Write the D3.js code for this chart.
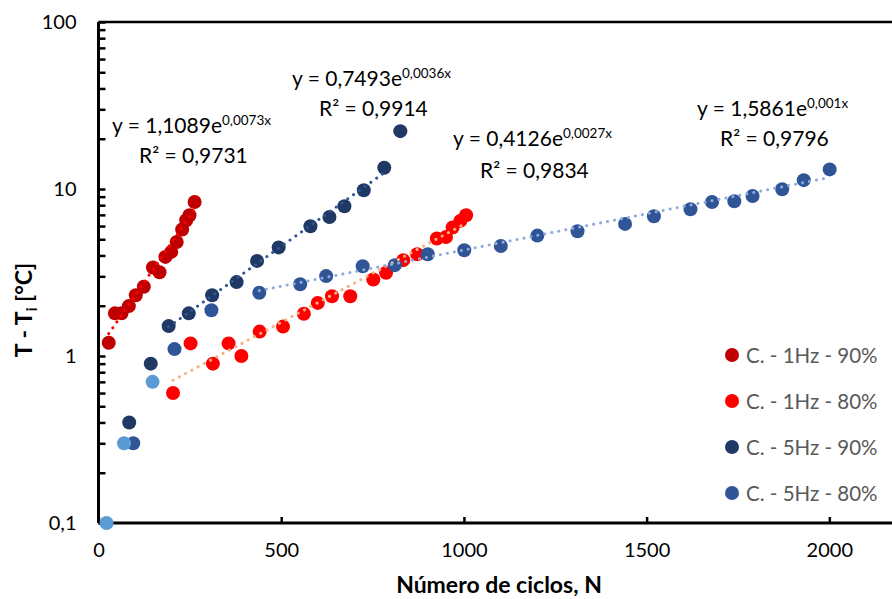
<!DOCTYPE html>
<html>
<head>
<meta charset="utf-8">
<script src="https://cdn.jsdelivr.net/npm/d3@7"></script>
<style>
  html, body { margin: 0; padding: 0; background: #fff; }
  svg { display: block; font-family: Lato, "Open Sans", sans-serif; }
</style>
</head>
<body>
<svg id="chart" width="892" height="599"></svg>
<script>
// ---- data: cycles (N) and temperature rise T - Ti [°C] ----
const seriesNames = ["C. - 1Hz - 90%", "C. - 1Hz - 80%", "C. - 5Hz - 90%", "C. - 5Hz - 80%"];

const c1h90_x = [28, 45, 63, 83, 102, 124, 149, 167, 183, 199, 214, 229, 240, 249, 263];
const c1h90_y = [1.20, 1.80, 1.80, 1.99, 2.31, 2.60, 3.39, 3.17, 3.92, 4.20, 4.82, 5.72, 6.50, 6.96, 8.36];

const c1h80_x = [204, 252, 313, 356, 391, 441, 505, 562, 600, 639, 689, 752, 787, 834, 872, 926, 951, 969, 990, 1006];
const c1h80_y = [0.60, 1.19, 0.90, 1.19, 1.00, 1.40, 1.50, 1.79, 2.08, 2.28, 2.28, 2.87, 3.15, 3.75, 4.07, 5.05, 5.16, 5.88, 6.44, 6.96];

const c5h90_x = [84, 143, 192, 247, 311, 378, 434, 493, 580, 632, 673, 726, 782, 826];
const c5h90_y = [0.40, 0.90, 1.51, 1.80, 2.31, 2.77, 3.71, 4.47, 5.98, 6.80, 7.88, 9.82, 13.4, 22.2];

const c5h80_x = [95, 208, 309, 440, 552, 623, 723, 811, 901, 1001, 1101, 1201, 1311, 1441, 1520, 1620, 1679, 1740, 1790, 1871, 1930, 2001];
const c5h80_y = [0.30, 1.10, 1.88, 2.39, 2.69, 3.01, 3.45, 3.50, 4.07, 4.30, 4.56, 5.26, 5.58, 6.18, 6.87, 7.56, 8.36, 8.44, 9.08, 9.96, 11.3, 13.1];

// early readings shown without a legend entry
const extra_x = [22, 70, 148];
const extra_y = [0.10, 0.30, 0.70];

// exponential fits y = a·e^(b·x), with the range of cycles each one covers
const fitA = [1.1089, 0.4126, 0.7493, 1.5861];
const fitB = [0.0073, 0.0027, 0.0036, 0.001];
const fitR2 = ["0,9731", "0,9834", "0,9914", "0,9796"];
const fitFrom = [28, 204, 192, 440];
const fitTo = [263, 1006, 782, 2001];

const xTickValues = [0, 500, 1000, 1500, 2000];
const xTickLabels = ["0", "500", "1000", "1500", "2000"];
const yTickValues = [0.1, 1, 10, 100];
const yTickLabels = ["0,1", "1", "10", "100"];

// ---- styling ----
const markerColors = ["#C00000", "#FF0000", "#1F3864", "#2F5597"];
const extraColor = "#5B9BD5";
const fitColors = ["#FF0000", "#F4B183", "#2F5597", "#8FAADC"];

const svg = d3.select("#chart");
const x = d3.scaleLinear().domain([0, 2200]).range([98.5, 902.4]);
const y = d3.scaleLog().domain([0.1, 100]).range([523, 22]);

// minor + major tick positions on the log axis
const yAllTicks = [];
for (let e = -1; e < 2; e++) for (let m = 1; m <= 9; m++) yAllTicks.push(m * Math.pow(10, e));
yAllTicks.push(100);

// top border
svg.append("line")
  .attr("x1", x(0)).attr("x2", 892).attr("y1", y(100)).attr("y2", y(100))
  .attr("stroke", "#000").attr("stroke-width", 2.5);

const yAxis = svg.append("g")
  .attr("transform", `translate(${x(0)},0)`)
  .call(d3.axisLeft(y).tickValues(yAllTicks).tickSize(-7).tickPadding(22)
    .tickFormat(v => { const i = yTickValues.findIndex(t => Math.abs(t - v) < 1e-9); return i >= 0 ? yTickLabels[i] : ""; }));

const xAxis = svg.append("g")
  .attr("transform", `translate(0,${y(0.1)})`)
  .call(d3.axisBottom(x).tickValues(xTickValues).tickSize(-6).tickPadding(20)
    .tickFormat((v, i) => xTickLabels[i]));

[yAxis, xAxis].forEach(g => {
  g.select(".domain").attr("stroke", "#000").attr("stroke-width", 3);
  g.selectAll(".tick line").attr("stroke", "#000").attr("stroke-width", 2.5);
  g.selectAll(".tick text").attr("fill", "#000").style("font-size", "20px").style("font-family", "Lato, sans-serif");
});
xAxis.select(".domain").attr("d", `M${x(0)},0H${x(2200)}`);
yAxis.select(".domain").attr("d", `M0,${y(100)}V${y(0.1)}`);

// markers
const seriesX = [c1h90_x, c1h80_x, c5h90_x, c5h80_x];
const seriesY = [c1h90_y, c1h80_y, c5h90_y, c5h80_y];
const R = 7;
seriesX.forEach((xs, s) => {
  svg.append("g").selectAll("circle")
    .data(xs.map((v, i) => [v, seriesY[s][i]]))
    .join("circle")
    .attr("cx", d => x(d[0])).attr("cy", d => y(d[1])).attr("r", R)
    .attr("fill", markerColors[s]);
});
svg.append("g").selectAll("circle")
  .data(extra_x.map((v, i) => [v, extra_y[i]]))
  .join("circle")
  .attr("cx", d => x(d[0])).attr("cy", d => y(d[1])).attr("r", R)
  .attr("fill", extraColor);

// dotted exponential trendlines, drawn over the markers
const line = d3.line().x(d => x(d[0])).y(d => y(d[1]));
fitA.forEach((a, s) => {
  const n = 60;
  const pts = d3.range(n + 1).map(k => {
    const xv = fitFrom[s] + (fitTo[s] - fitFrom[s]) * k / n;
    return [xv, a * Math.exp(fitB[s] * xv)];
  });
  svg.append("path").datum(pts).attr("d", line)
    .attr("fill", "none").attr("stroke", fitColors[s])
    .attr("stroke-width", 3).attr("stroke-linecap", "round")
    .attr("stroke-dasharray", "0.1 7");
});

// trendline equations
const eqPos = [[112, 133, 139, 163], [453, 146, 480, 178], [292, 86, 319, 116], [697, 116, 720, 146]];
const fmt = v => String(v).replace(".", ",");
eqPos.forEach((p, s) => {
  const t = svg.append("text").attr("x", p[0]).attr("y", p[1])
    .attr("fill", "#000").style("font-size", "21px");
  t.append("tspan").text(`y = ${fmt(fitA[s].toFixed(4))}e`);
  t.append("tspan").attr("dy", -8).style("font-size", "13.5px").text(`${fmt(fitB[s])}x`);
  svg.append("text").attr("x", p[2]).attr("y", p[3])
    .attr("fill", "#000").style("font-size", "21px")
    .text(`R² = ${fitR2[s]}`);
});

// legend
const lg = svg.append("g");
seriesNames.forEach((name, i) => {
  const cy = 355 + i * 46;
  lg.append("circle").attr("cx", 732).attr("cy", cy).attr("r", 7).attr("fill", markerColors[i]);
  lg.append("text").attr("x", 746).attr("y", cy + 7.5)
    .attr("fill", "#595959").style("font-size", "20.5px").text(name);
});

// axis titles
svg.append("text")
  .attr("x", 499).attr("y", 593).attr("text-anchor", "middle")
  .style("font-size", "23px").style("font-weight", "bold").attr("fill", "#000")
  .text("Número de ciclos, N");

const yt = svg.append("text")
  .attr("transform", "translate(32,310) rotate(-90)").attr("text-anchor", "middle")
  .style("font-size", "23px").style("font-weight", "bold").attr("fill", "#000");
yt.append("tspan").text("T - T");
yt.append("tspan").attr("dy", 5).style("font-size", "15px").text("i");
yt.append("tspan").attr("dy", -5).text(" [°C]");
</script>
</body>
</html>
